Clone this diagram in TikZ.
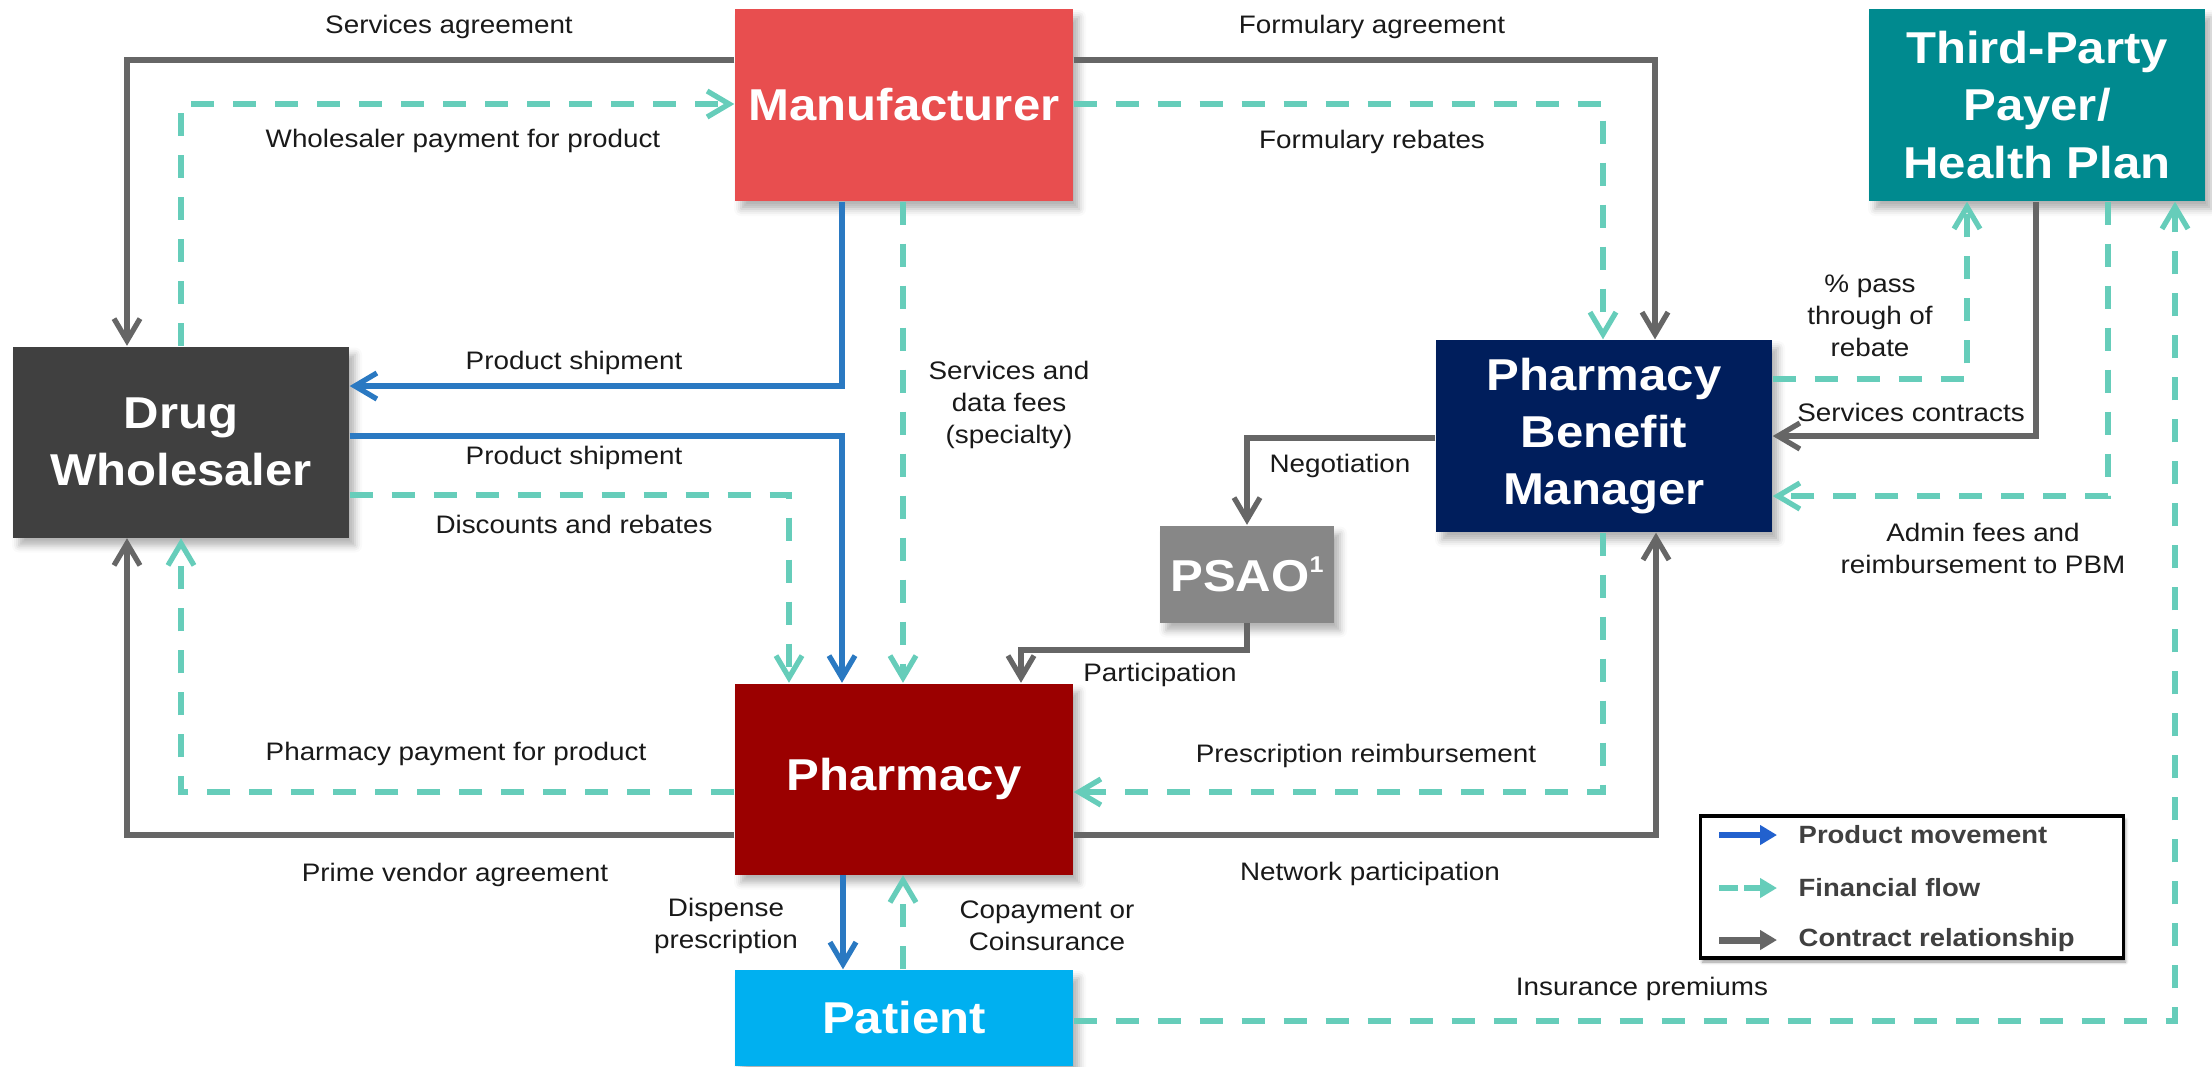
\documentclass[tikz,border=0pt]{standalone}
\usepackage{fontspec}
\setmainfont{Liberation Sans}[FakeStretch=1.1]
\usetikzlibrary{arrows.meta,shadows.blur}

\definecolor{mfrred}{HTML}{E84E4F}
\definecolor{whsgray}{HTML}{404040}
\definecolor{pharred}{HTML}{9B0000}
\definecolor{patblue}{HTML}{00B0F0}
\definecolor{pbmnavy}{HTML}{001E5C}
\definecolor{payteal}{HTML}{008A8F}
\definecolor{psaogray}{HTML}{878787}
\definecolor{prodblue}{HTML}{2A79C2}
\definecolor{finteal}{HTML}{66CDBA}
\definecolor{contrgray}{HTML}{666666}

\begin{document}
\begin{tikzpicture}[x=0.1mm,y=-0.1mm,
  actor/.style={text=white,font=\fontsize{12.7}{16.3}\selectfont\bfseries,align=center,inner sep=0pt,
    blur shadow={shadow xshift=0.6mm,shadow yshift=-0.8mm,shadow opacity=30,shadow blur radius=0.7mm}},
  flowlbl/.style={font=\fontsize{7.2}{9.1}\selectfont,align=center,text=black!90},
  legtxt/.style={font=\fontsize{7.1}{9}\selectfont\bfseries,text=whsgray,anchor=west,inner sep=0pt},
  barb/.style={-{Straight Barb[length=2.2mm,width=2.6mm]}},
  prod/.style={draw=prodblue,line width=1.5pt,barb},
  fin/.style={draw=finteal,line width=1.5pt,dash pattern=on 2.3mm off 1.9mm,barb},
  contr/.style={draw=contrgray,line width=1.5pt,barb},
]
  \useasboundingbox (0,0) rectangle (2212,1066);

  % the parties
  \node[actor,fill=mfrred,minimum width=33.8mm,minimum height=19.2mm] (mfr) at (904,105) {Manufacturer};
  \node[actor,fill=whsgray,minimum width=33.6mm,minimum height=19.1mm] (whs) at (181,442) {Drug\\Wholesaler};
  \node[actor,fill=pharred,minimum width=33.8mm,minimum height=19.1mm] (pha) at (904,779) {Pharmacy};
  \node[actor,fill=patblue,minimum width=33.8mm,minimum height=9.6mm] (pat) at (904,1018) {Patient};
  \node[actor,fill=pbmnavy,minimum width=33.6mm,minimum height=19.2mm] (pbm) at (1604,436) {Pharmacy\\Benefit\\Manager};
  \node[actor,fill=payteal,minimum width=33.6mm,minimum height=19.2mm] (tpp) at (2037,105) {Third-Party\\Payer/\\Health Plan};
  \node[actor,fill=psaogray,minimum width=17.4mm,minimum height=9.7mm] (psao) at (1247,574)
    {PSAO\raisebox{0.8ex}{\fontsize{6.5}{6.5}\selectfont 1}};

  % manufacturer and wholesaler
  \draw[contr] (mfr.west |- 0,60) -| (whs.north -| 127,0);
  \node[flowlbl] (lSvcAgr) at (449,27) {Services agreement};
  \draw[fin] (whs.north -| 181,0) |- (mfr.west |- 0,104);
  \node[flowlbl] (lWhsPay) at (463,141) {Wholesaler payment for product};
  \draw[prod] (mfr.south -| 842,0) |- (whs.east |- 0,386);
  \node[flowlbl] (lShipA) at (574,363) {Product shipment};

  % wholesaler to pharmacy
  \draw[prod] (whs.east |- 0,436) -| (pha.north -| 842,0);
  \node[flowlbl] (lShipB) at (574,458) {Product shipment};
  \draw[fin] (whs.east |- 0,495) -| (pha.north -| 789,0);
  \node[flowlbl] (lDisc) at (574,524) {Discounts and rebates};
  \draw[fin] (mfr.south -| 903,0) -- (pha.north -| 903,0);
  \node[flowlbl] (lSvcFee) at (1009,405) {Services and\\data fees\\(specialty)};
  \draw[fin] (pha.west |- 0,792) -| (whs.south -| 181,0);
  \node[flowlbl] (lPhaPay) at (456,754) {Pharmacy payment for product};
  \draw[contr] (pha.west |- 0,835) -| (whs.south -| 127,0);
  \node[flowlbl] (lPrime) at (455,875) {Prime vendor agreement};

  % manufacturer and PBM
  \draw[contr] (mfr.east |- 0,60) -| (pbm.north -| 1655,0);
  \node[flowlbl] (lFormAgr) at (1372,27) {Formulary agreement};
  \draw[fin] (mfr.east |- 0,104) -| (pbm.north -| 1603,0);
  \node[flowlbl] (lFormReb) at (1372,142) {Formulary rebates};

  % PBM and health plan
  \draw[fin] (pbm.east |- 0,379) -| (tpp.south -| 1967,0);
  \node[flowlbl] (lPass) at (1870,316) {\% pass\\through of\\rebate};
  \draw[contr] (tpp.south -| 2036,0) |- (pbm.east |- 0,436);
  \node[flowlbl] (lSvcCon) at (1911,412) {Services contracts};
  \draw[fin] (tpp.south -| 2108,0) |- (pbm.east |- 0,496);
  \node[flowlbl] (lAdmin) at (1983,548) {Admin fees and\\reimbursement to PBM};

  % PSAO
  \draw[contr] (pbm.west |- 0,438) -| (psao.north);
  \node[flowlbl] (lNego) at (1340,466) {Negotiation};
  \draw[contr] (psao.south) -- (psao.south |- 0,650) -| (pha.north -| 1021,0);
  \node[flowlbl] (lPart) at (1160,675) {Participation};

  % PBM and pharmacy
  \draw[fin] (pbm.south -| 1603,0) |- (pha.east |- 0,792);
  \node[flowlbl] (lRxReimb) at (1366,756) {Prescription reimbursement};
  \draw[contr] (pha.east |- 0,835) -| (pbm.south -| 1656,0);
  \node[flowlbl] (lNetwork) at (1370,874) {Network participation};

  % patient
  \draw[prod] (pha.south -| 843,0) -- (pat.north -| 843,0);
  \node[flowlbl] (lDisp) at (726,926) {Dispense\\prescription};
  \draw[fin] (pat.north -| 903,0) -- (pha.south -| 903,0);
  \node[flowlbl] (lCopay) at (1047,926) {Copayment or\\Coinsurance};
  \draw[fin] (pat.east |- 0,1021) -| (tpp.south -| 2175,0);
  \node[flowlbl] (lPrem) at (1642,989) {Insurance premiums};

  % legend
  \node[draw=black,line width=0.9pt,fill=white,minimum width=42.3mm,minimum height=14.2mm,
    blur shadow={shadow xshift=0.2mm,shadow yshift=-0.4mm,shadow opacity=40,shadow blur radius=0.3mm}] (legend) at (1912,887) {};
  \node[legtxt] (lgProd) at (1798,835) {Product movement};
  \node[legtxt] (lgFin) at (1798,888) {Financial flow};
  \node[legtxt] (lgContr) at (1798,940) {Contract relationship};
  \draw[draw=prodblue!80!blue,line width=1.8pt,-{Triangle[length=1.7mm,width=1.9mm]}]
    ([xshift=-7.9mm]lgProd.west) -- ([xshift=-2.1mm]lgProd.west);
  \draw[draw=finteal,line width=1.8pt,dash pattern=on 1.9mm off 0.6mm,-{Triangle[length=1.7mm,width=1.9mm]}]
    ([xshift=-7.9mm]lgFin.west) -- ([xshift=-2.1mm]lgFin.west);
  \draw[draw=contrgray,line width=2pt,-{Triangle[length=1.7mm,width=1.9mm]}]
    ([xshift=-7.9mm]lgContr.west) -- ([xshift=-2.1mm]lgContr.west);
\end{tikzpicture}
\end{document}
